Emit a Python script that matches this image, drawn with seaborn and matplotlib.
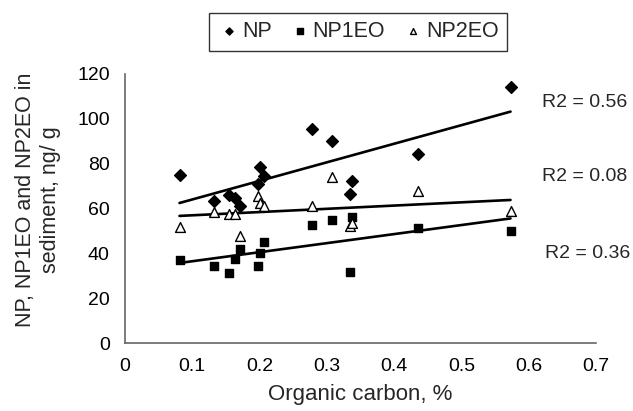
import numpy as np
import pandas as pd
import seaborn as sns
import matplotlib.pyplot as plt

# valores
organic_carbon = [0.081, 0.132, 0.155, 0.163, 0.171, 0.197, 0.200, 0.207,
                  0.278, 0.307, 0.335, 0.338, 0.435, 0.573]
np_vals = [75.0, 63.5, 66.0, 64.5, 61.2, 70.9, 78.4, 74.5,
           95.3, 90.1, 66.5, 72.3, 84.2, 114.3]
np1eo_vals = [37.0, 34.3, 31.1, 37.5, 42.2, 34.3, 40.3, 44.9,
              52.9, 54.9, 31.8, 56.3, 51.4, 50.1]
np2eo_vals = [51.6, 58.3, 57.5, 57.5, 47.7, 65.7, 62.6, 61.1,
              61.1, 73.9, 52.2, 53.5, 67.9, 58.9]
series_names = ['NP', 'NP1EO', 'NP2EO']
r2_labels = ['R2 = 0.56', 'R2 = 0.08', 'R2 = 0.36']

df = pd.DataFrame({'oc': organic_carbon, 'NP': np_vals,
                   'NP1EO': np1eo_vals, 'NP2EO': np2eo_vals})

sns.set_style('white')
plt.rcParams['font.family'] = ['Liberation Sans', 'DejaVu Sans']

fig = plt.figure(figsize=(6.33, 4.11), dpi=100)
ax = fig.add_axes([0.1975, 0.165, 0.744, 0.655])

styles = {
    'NP': dict(marker='D', color='black', s=36),
    'NP1EO': dict(marker='s', color='black', s=40),
    'NP2EO': dict(marker='^', color='white', s=50),
}
for name in series_names:
    st = styles[name]
    sns.scatterplot(data=df, x='oc', y=name, marker=st['marker'], color=st['color'],
                    edgecolor='black', linewidth=1.0, s=st['s'], label=name, ax=ax, zorder=3)
    sns.regplot(data=df, x='oc', y=name, scatter=False, ci=None, color='black',
                line_kws={'linewidth': 1.9}, ax=ax)

# rótulos R2
ax.text(0.62, 107.5, r2_labels[0], fontsize=14, va='center', clip_on=False)
ax.text(0.62, 74.5, r2_labels[1], fontsize=14, va='center', clip_on=False)
ax.text(0.624, 40.0, r2_labels[2], fontsize=14, va='center', clip_on=False)

ax.set_xlim(0, 0.7)
ax.set_ylim(0, 120)
ax.set_xticks(np.arange(0, 0.71, 0.1))
ax.set_xticklabels(['0'] + ['%.1f' % v for v in np.arange(0.1, 0.71, 0.1)])
ax.set_yticks(range(0, 121, 20))
ax.tick_params(direction='inout', length=10, width=1.0, color='#333333',
               labelsize=14, labelcolor='black', pad=6)
for side in ['top', 'right']:
    ax.spines[side].set_visible(False)
for side in ['left', 'bottom']:
    ax.spines[side].set_color('#666666')
    ax.spines[side].set_linewidth(1.2)

ax.set_xlabel('Organic carbon, %', fontsize=16, labelpad=6)
ax.set_ylabel('')
fig.text(0.06, 0.515, 'NP, NP1EO and NP2EO in\nsediment, ng/ g', rotation=90,
         fontsize=15.5, ha='center', va='center', multialignment='center')

handles, labels = ax.get_legend_handles_labels()
ax.get_legend().remove()
leg = fig.legend(handles, labels, loc='center', bbox_to_anchor=(0.566, 0.923), ncol=3,
                 fontsize=15.5, markerscale=0.6, frameon=True, fancybox=False,
                 handletextpad=0.1, columnspacing=0.8, handlelength=1.0,
                 borderpad=0.4, edgecolor='black')
leg.get_frame().set_linewidth(1.0)

fig.savefig('out.png', dpi=100)
